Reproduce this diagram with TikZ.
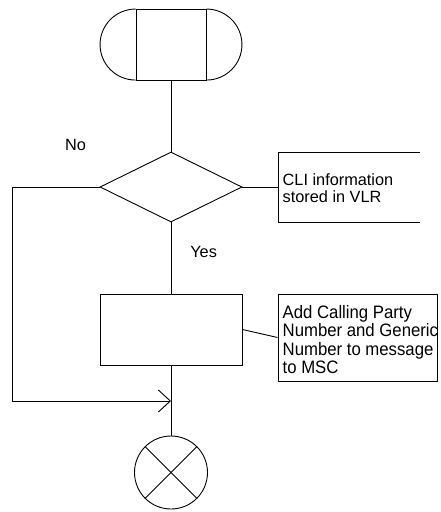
\documentclass[tikz,border=0pt]{standalone}
\usepackage{fontspec}
\setmainfont{Liberation Sans}
\newfontfamily\condfont[FakeStretch=0.93]{Liberation Sans}
\usetikzlibrary{shapes.geometric,arrows.meta}
\begin{document}
\begin{tikzpicture}[x=1pt,y=-1pt,
  ln/.style={line width=0.9pt,draw=black},
  lbl/.style={font=\fontsize{16.3}{17.7}\selectfont,inner sep=0pt,anchor=base},
  cmt/.style={font=\fontsize{16.3}{17.7}\selectfont,inner sep=0pt,align=left,anchor=north west},
  cmtb/.style={font=\condfont\fontsize{18}{18.5}\selectfont,inner sep=0pt,align=left,anchor=north west}]
\useasboundingbox (0,0) rectangle (440,512);
% start terminal
\node[ln,draw,rectangle,minimum width=70pt,minimum height=71pt,inner sep=0pt] (start) at (171,45) {};
\draw[ln] (start.north west) arc[start angle=90,end angle=270,radius=35.5pt];
\draw[ln] (start.north east) arc[start angle=90,end angle=-90,radius=35.5pt];
% decision
\node[ln,draw,diamond,aspect=2.03,minimum width=142pt,minimum height=70pt,inner sep=0pt] (dec) at (171,187) {};
\draw[ln] (start.south) -- (dec.north);
% comment 1
\coordinate (c1w) at (278,187);
\draw[ln] (420,152) -- (278,152) -- (278,222) -- (420,222);
\draw[ln] (dec.east) -- (c1w);
\node[cmt] (c1) at (282.5,173) {CLI information\\stored in VLR};
% labels
\node[lbl] (no) at (75.5,150) {No};
\node[lbl] (yes) at (203.6,257.7) {Yes};
% process
\node[ln,draw,rectangle,minimum width=142pt,minimum height=71pt,inner sep=0pt] (proc) at (171,329.5) {};
\draw[ln] (dec.south) -- (proc.north);
% comment 2
\node[ln,draw,rectangle,minimum width=159pt,minimum height=87pt,inner sep=0pt] (c2box) at (357.5,337.5) {};
\draw[ln] (proc.east) -- (c2box.west);
\node[cmtb] (c2) at (282.5,305) {Add Calling Party\\Number and Generic\\Number to message\\to MSC};
% end
\node[ln,draw,circle,minimum size=73pt,inner sep=0pt] (stop) at (171,472.5) {};
\draw[ln] (stop.north west) -- (stop.south east);
\draw[ln] (stop.north east) -- (stop.south west);
\draw[ln] (proc.south) -- (stop.north);
% no branch
\coordinate (nb) at (12,187);
\coordinate (nc) at (12,401);
\coordinate (merge) at (171,401);
\draw[ln,-{Straight Barb[length=12pt,width=22pt,line width=0.9pt]}] (dec.west) -- (nb) -- (nc) -- (merge);
\end{tikzpicture}
\end{document}
